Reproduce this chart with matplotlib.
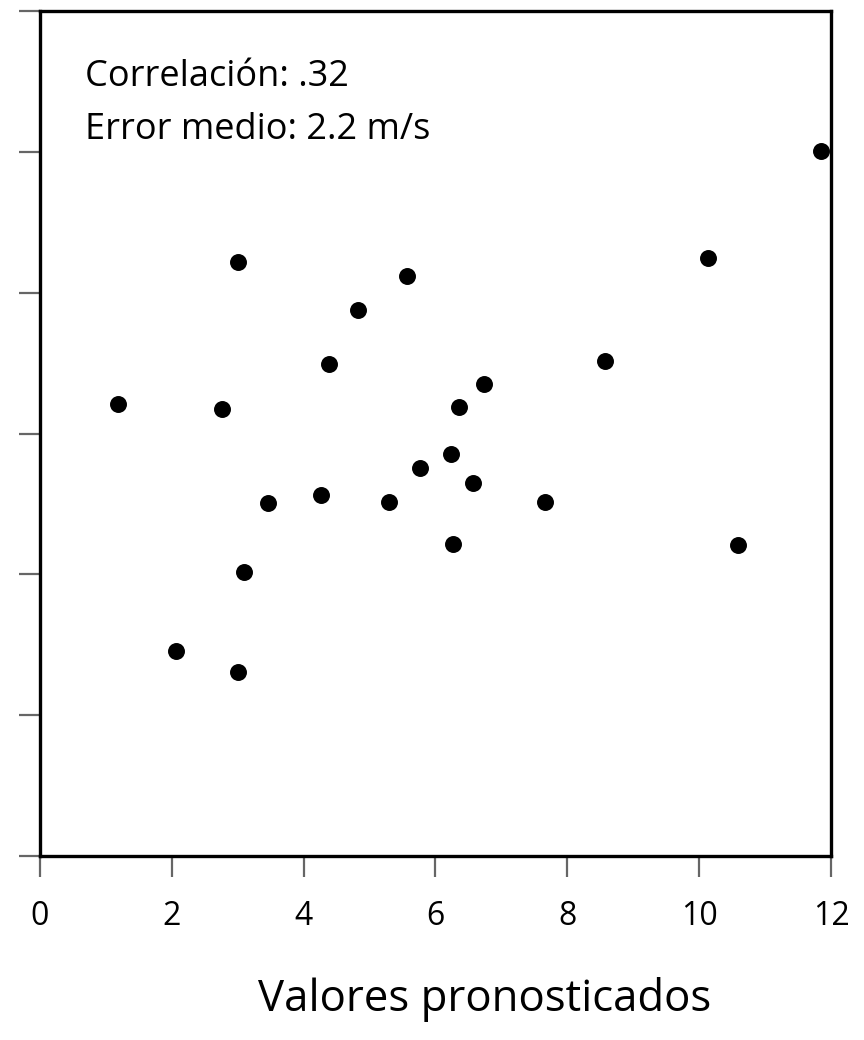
import numpy as np
import matplotlib.pyplot as plt

# valores
x_pron = [11.85, 3.00, 10.14, 5.57, 4.83, 4.39, 8.57, 1.18, 2.76, 6.74, 6.36, 6.24,
          5.77, 6.57, 4.26, 3.46, 5.30, 7.66, 6.27, 10.59, 3.10, 2.06, 3.00]
y_obs = [10.01, 8.44, 8.49, 8.24, 7.76, 6.99, 7.03, 6.42, 6.35, 6.70, 6.38, 5.71,
         5.51, 5.30, 5.13, 5.01, 5.03, 5.03, 4.43, 4.42, 4.03, 2.91, 2.61]
x_ticks = [0, 2, 4, 6, 8, 10, 12]
y_ticks = [0, 2, 4, 6, 8, 10, 12]
texto = ["Correlación: .32", "Error medio: 2.2 m/s"]
xlabel = "Valores pronosticados"

plt.rcParams['font.family'] = ['Open Sans', 'DejaVu Sans']

fig = plt.figure(figsize=(8.64, 10.4), dpi=100)
ax = fig.add_axes([40/864, 1-856/1040, (831-40)/864, (856-11)/1040])

ax.scatter(x_pron, y_obs, s=125, color='black', zorder=3, clip_on=False)
ax.set_xlim(0, 12)
ax.set_ylim(0, 12)
ax.set_xticks(x_ticks)
ax.set_yticks(y_ticks)
ax.set_yticklabels([])
ax.tick_params(axis='both', direction='out', length=15, width=1.6, color='#666666',
               labelsize=23, pad=17)
for s in ax.spines.values():
    s.set_linewidth(2.4)
    s.set_color('black')

fig.text(85/864, 1-77/1040, texto[0], fontsize=26, va='center', ha='left')
fig.text(85/864, 1-130/1040, texto[1], fontsize=26, va='center', ha='left')
fig.text(0.5*(256+713)/864, 1-1000/1040, xlabel, fontsize=31.5, va='center', ha='center')

plt.savefig("out.png", dpi=100)
